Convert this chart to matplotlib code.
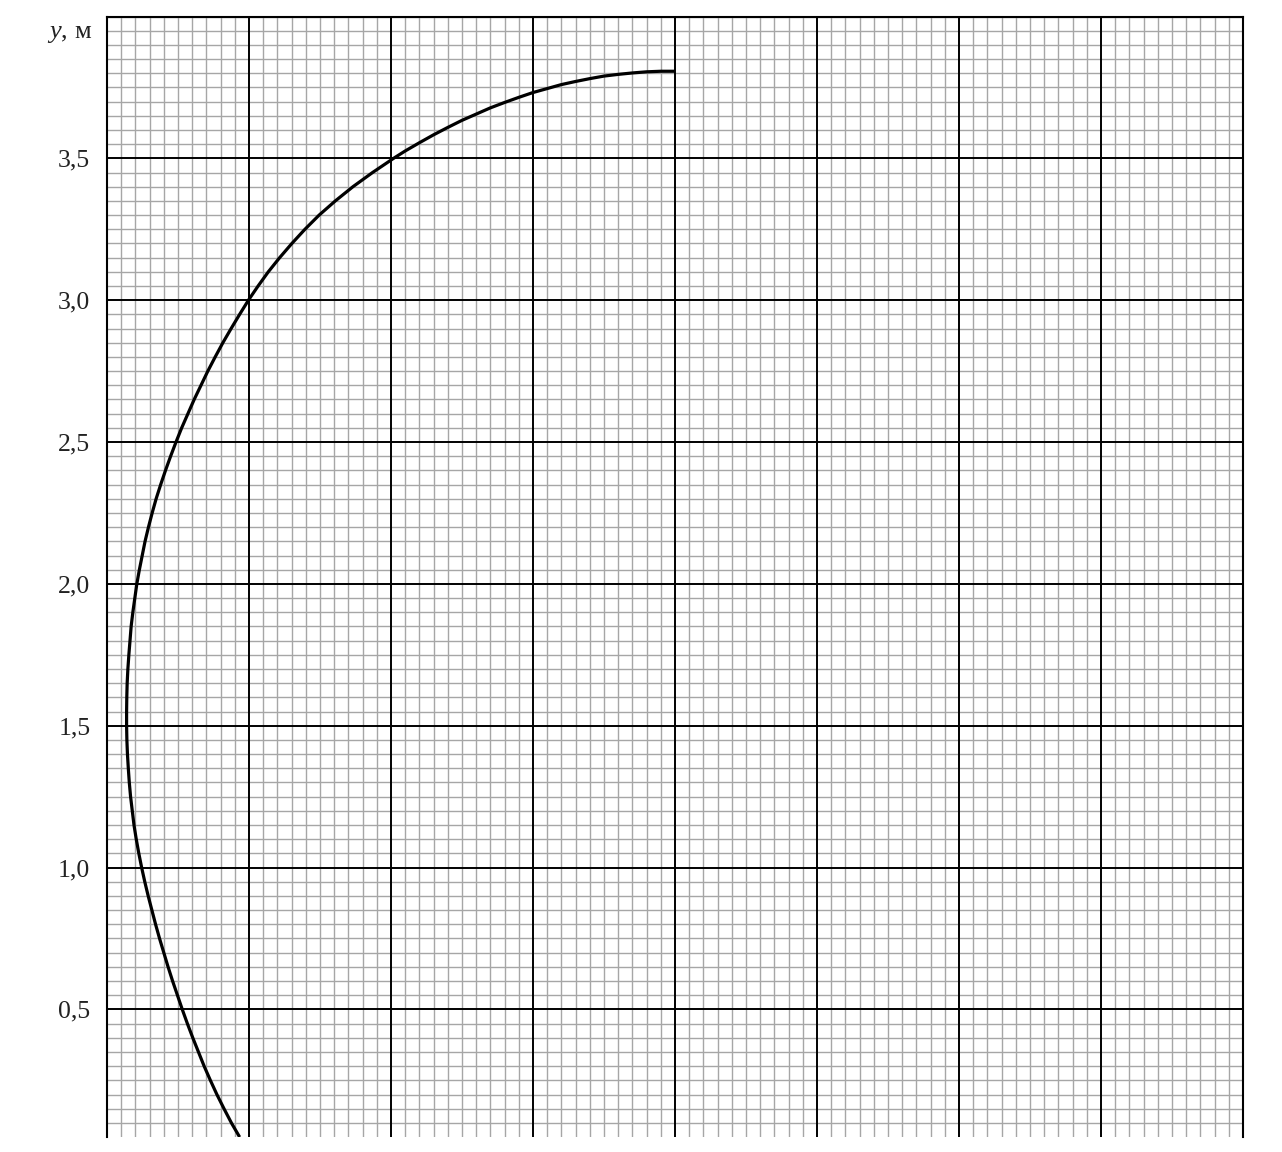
import matplotlib.pyplot as plt
from matplotlib.ticker import MultipleLocator, FixedLocator, FuncFormatter

# curve, from the top end down to the bottom edge
# upper part: y read at x = 2.00 ... 1.05
x_top = [2.00, 1.95, 1.90, 1.85, 1.80, 1.75, 1.70, 1.65, 1.60, 1.55,
         1.50, 1.45, 1.40, 1.35, 1.30, 1.25, 1.20, 1.15, 1.10, 1.05]
y_top = [3.807, 3.807, 3.805, 3.801, 3.796, 3.790, 3.781, 3.771, 3.760, 3.746,
         3.732, 3.715, 3.697, 3.678, 3.656, 3.634, 3.609, 3.583, 3.555, 3.526]
# side part: x read at y = 3.50 ... 0.05
y_side = [3.50, 3.45, 3.40, 3.35, 3.30, 3.25, 3.20, 3.15, 3.10, 3.05,
          3.00, 2.95, 2.90, 2.85, 2.80, 2.75, 2.70, 2.65, 2.60, 2.55,
          2.50, 2.45, 2.40, 2.35, 2.30, 2.25, 2.20, 2.15, 2.10, 2.05,
          2.00, 1.95, 1.90, 1.85, 1.80, 1.75, 1.70, 1.65, 1.60, 1.55,
          1.50, 1.45, 1.40, 1.35, 1.30, 1.25, 1.20, 1.15, 1.10, 1.05,
          1.00, 0.95, 0.90, 0.85, 0.80, 0.75, 0.70, 0.65, 0.60, 0.55,
          0.50, 0.45, 0.40, 0.35, 0.30, 0.25, 0.20, 0.15, 0.10, 0.05]
x_side = [1.009, 0.935, 0.866, 0.804, 0.747, 0.697, 0.651, 0.608, 0.568, 0.532,
          0.498, 0.467, 0.437, 0.408, 0.381, 0.355, 0.331, 0.307, 0.285, 0.263,
          0.243, 0.224, 0.206, 0.189, 0.173, 0.159, 0.146, 0.134, 0.124, 0.114,
          0.105, 0.098, 0.091, 0.085, 0.081, 0.077, 0.0735, 0.071, 0.0697, 0.069,
          0.069, 0.070, 0.072, 0.075, 0.0785, 0.083, 0.089, 0.095, 0.103, 0.112,
          0.122, 0.133, 0.145, 0.158, 0.171, 0.185, 0.200, 0.215, 0.231, 0.248,
          0.265, 0.283, 0.302, 0.322, 0.342, 0.364, 0.387, 0.412, 0.438, 0.467]

y_ticks = [0.5, 1.0, 1.5, 2.0, 2.5, 3.0, 3.5]

plt.rcParams['font.family'] = ['Liberation Serif', 'DejaVu Serif']
plt.rcParams['mathtext.fontset'] = 'custom'
plt.rcParams['mathtext.it'] = 'Liberation Serif:italic'
plt.rcParams['mathtext.rm'] = 'Liberation Serif'

W, H = 1282, 1152
fig = plt.figure(figsize=(W / 100, H / 100), dpi=100)
ax = fig.add_axes([107 / W, 1 - 1136.5 / H, (1243 - 107) / W, (1136.5 - 16.5) / H])

ax.set_xlim(0, 4.0)
ax.set_ylim(0.052, 4.0)

ax.xaxis.set_major_locator(MultipleLocator(0.5))
ax.xaxis.set_minor_locator(MultipleLocator(0.05))
ax.yaxis.set_major_locator(FixedLocator(y_ticks))
ax.yaxis.set_minor_locator(MultipleLocator(0.05))
ax.yaxis.set_major_formatter(FuncFormatter(lambda v, p: f"{v:.1f}".replace('.', ',')))
ax.xaxis.set_major_formatter(FuncFormatter(lambda v, p: ""))

ax.set_axisbelow(True)
ax.grid(which='minor', color='#a6a6a6', lw=1.0)
for v in ax.get_xticks():
    ax.axvline(v, color='black', lw=1.4, zorder=1.5)
for v in y_ticks:
    ax.axhline(v, color='black', lw=1.4, zorder=1.5)

ax.plot(x_top + x_side, y_top + y_side, color='black', lw=2.3, zorder=3,
        solid_capstyle='butt', solid_joinstyle='round')

ax.tick_params(which='both', length=0)
ax.tick_params(axis='y', pad=12, labelsize=18.5, labelcolor='#222222')
for s in ['left', 'top', 'right']:
    ax.spines[s].set_linewidth(1.5)
ax.spines['bottom'].set_visible(False)

fig.text(92 / W, 1 - 34 / H, r"$y$, м", ha='right', va='center', fontsize=19, color='#222222')

fig.savefig("out.png", dpi=100)
